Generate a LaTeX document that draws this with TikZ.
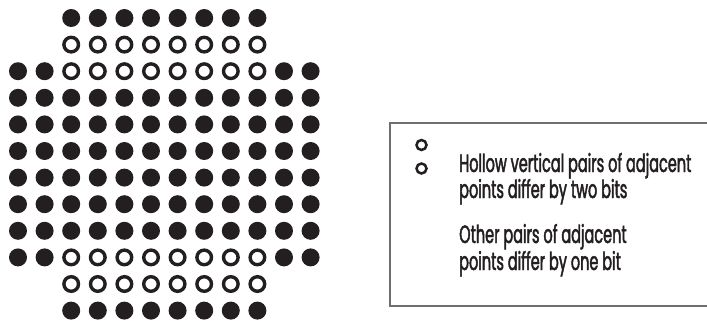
\documentclass[tikz,border=0pt]{standalone}
\usepackage{fontspec}
\setmainfont[FakeStretch=0.58,FakeBold=1.8]{Poppins}
\definecolor{ink}{HTML}{231F20}
\definecolor{frame}{HTML}{6F6F6F}
\begin{document}
\begin{tikzpicture}[x=1pt,y=-1pt,
  fdot/.style={circle,fill=ink,inner sep=0pt,minimum size=18pt},
  hdot/.style={circle,draw=ink,line width=3.4pt,inner sep=0pt,minimum size=14.6pt},
  lcirc/.style={circle,draw=ink,line width=2.5pt,inner sep=0pt,minimum size=10pt},
  boxline/.style={draw=frame,line width=1.5pt},
  ltext/.style={anchor=base west,inner sep=0pt,text=ink,font=\fontsize{25}{28}\selectfont}]
\useasboundingbox (0,0) rectangle (707,324);
\foreach \c in {3,...,10}{
  \node[fdot] (d-1-\c) at ({18+26.6*(\c-1)},18) {};
  \node[fdot] (d-12-\c) at ({18+26.6*(\c-1)},{18+26.6*11}) {};
  \node[hdot] (d-2-\c) at ({18+26.6*(\c-1)},{18+26.6}) {};
  \node[hdot] (d-11-\c) at ({18+26.6*(\c-1)},{18+26.6*10}) {};
  \node[hdot] (d-3-\c) at ({18+26.6*(\c-1)},{18+26.6*2}) {};
  \node[hdot] (d-10-\c) at ({18+26.6*(\c-1)},{18+26.6*9}) {};
}
\foreach \c in {1,2,11,12}{
  \node[fdot] (d-3-\c) at ({18+26.6*(\c-1)},{18+26.6*2}) {};
  \node[fdot] (d-10-\c) at ({18+26.6*(\c-1)},{18+26.6*9}) {};
}
\foreach \r in {4,...,9}{
  \foreach \c in {1,...,12}{
    \node[fdot] (d-\r-\c) at ({18+26.6*(\c-1)},{18+26.6*(\r-1)}) {};
  }
}
% legend
\coordinate (bx1) at (707,123);
\coordinate (bx2) at (390,123);
\coordinate (bx3) at (390,306);
\coordinate (bx4) at (707,306);
\draw[boxline] (bx1) -- (bx2) -- (bx3) -- (bx4);
\node[lcirc] (l1) at (421.5,145) {};
\node[lcirc] (l2) at (421.5,168.5) {};
\node[ltext] (t1) at (459,172) {Hollow vertical pairs of adjacent};
\node[ltext] (t2) at (459,198) {points differ by two bits};
\node[ltext] (t3) at (459,243) {Other pairs of adjacent};
\node[ltext] (t4) at (459,270) {points differ by one bit};
\end{tikzpicture}
\end{document}
